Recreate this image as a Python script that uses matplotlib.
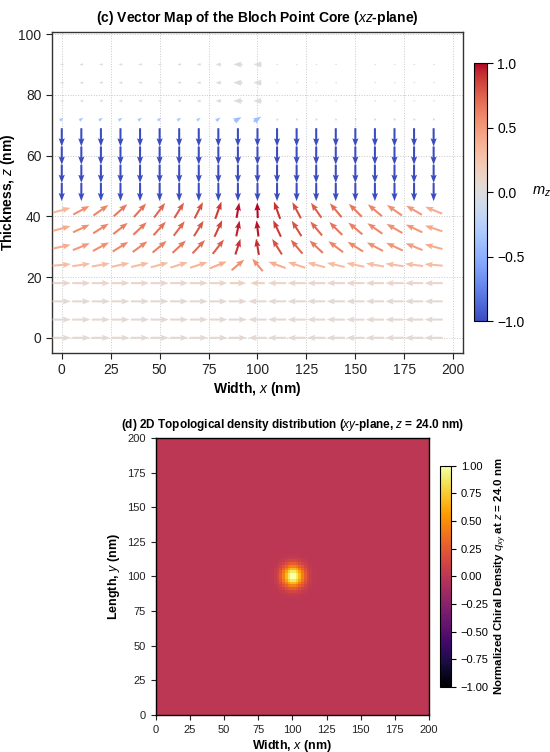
import numpy as np
import matplotlib
matplotlib.use("Agg")
import matplotlib.pyplot as plt

plt.rcParams['font.family'] = ['Liberation Sans', 'DejaVu Sans']
plt.rcParams['mathtext.fontset'] = 'custom'
plt.rcParams['mathtext.rm'] = 'Liberation Sans'
plt.rcParams['mathtext.it'] = 'Liberation Sans:italic'
plt.rcParams['mathtext.bf'] = 'Liberation Sans:bold'
plt.rcParams['axes.unicode_minus'] = True

# ---------------- data: panel (c) ----------------
x_nm = [0, 10, 20, 30, 40, 50, 60, 70, 80, 90, 100, 110, 120, 130, 140, 150, 160, 170, 180, 190]
z_nm = [0, 6, 12, 18, 24, 30, 36, 42, 48, 54, 60, 66, 72, 78, 84, 90]

# arrow direction (degrees from +x), one row per z
angle_deg = [
    [0]*10 + [180]*10,
    [0]*10 + [180]*10,
    [0]*10 + [180]*10,
    [0]*10 + [180]*10,
    [5, 8, 10, 12, 13, 15, 17, 18, 22, 40, 130, 160, 162, 165, 167, 168, 170, 172, 173, 175],
    [12, 22, 28, 32, 36, 40, 43, 47, 52, 72, 100, 122, 130, 137, 143, 148, 152, 155, 158, 165],
    [15, 25, 32, 38, 43, 48, 53, 58, 65, 78, 97, 115, 122, 130, 135, 140, 145, 150, 155, 162],
    [15, 28, 35, 42, 48, 53, 58, 63, 70, 80, 92, 110, 118, 125, 130, 135, 140, 145, 150, 158],
    [270]*20,
    [270]*20,
    [270]*20,
    [270]*20,
    [35]*9 + [30, 35] + [120]*9,
    [180]*20,
    [180]*20,
    [180]*20,
]
# in-plane arrow length (normalised)
magnitude = [
    [1.0]*20,
    [1.0]*20,
    [1.0]*20,
    [1.0]*9 + [0.9, 0.8] + [1.0]*9,
    [1.0]*9 + [0.9, 0.9] + [1.0]*9,
    [1.0]*9 + [0.9, 0.9] + [1.0]*9,
    [1.0]*9 + [0.88, 0.88] + [1.0]*9,
    [1.0]*9 + [0.85, 0.85] + [1.0]*9,
    [1.0]*20,
    [1.0]*20,
    [1.0]*20,
    [1.0]*20,
    [0.25]*8 + [0.3, 0.45, 0.5] + [0.15]*9,
    [0.2]*7 + [0.22, 0.3, 0.5, 0.45] + [0.12]*9,
    [0.2]*7 + [0.22, 0.3, 0.5, 0.45] + [0.12]*9,
    [0.2]*7 + [0.22, 0.3, 0.5, 0.45] + [0.12]*9,
]
# colour value m_z
mz = [
    [0.06]*20,
    [0.06]*20,
    [0.06]*20,
    [0.1]*9 + [0.15, 0.15] + [0.1]*9,
    [0.3, 0.3, 0.3, 0.3, 0.3, 0.3, 0.32, 0.35, 0.4, 0.55, 0.55, 0.4, 0.35, 0.32, 0.3, 0.3, 0.3, 0.3, 0.3, 0.3],
    [0.4, 0.5, 0.55, 0.58, 0.6, 0.62, 0.65, 0.7, 0.75, 0.9, 0.92, 0.8, 0.72, 0.65, 0.6, 0.58, 0.55, 0.52, 0.48, 0.4],
    [0.4, 0.55, 0.6, 0.62, 0.65, 0.68, 0.72, 0.78, 0.85, 0.95, 0.97, 0.88, 0.8, 0.72, 0.66, 0.62, 0.58, 0.55, 0.5, 0.42],
    [0.35, 0.55, 0.6, 0.65, 0.68, 0.72, 0.76, 0.8, 0.88, 0.97, 1.0, 0.9, 0.82, 0.75, 0.7, 0.65, 0.6, 0.55, 0.5, 0.4],
    [-1.0]*20,
    [-1.0]*20,
    [-1.0]*20,
    [-1.0]*20,
    [-0.35]*9 + [-0.4, -0.4] + [-0.2]*9,
    [-0.03]*20,
    [-0.03]*20,
    [-0.03]*20,
]

# ---------------- data: panel (d) ----------------
grid_cells = 100          # 2 nm cells over 0..200 nm
core_cell = 50            # cell index of the core (x = y = 100 nm boundary)
# one quadrant of the chiral-density spot, distances 1,3,...,15 nm from the core
spot_quadrant = [
    [1.000, 0.877, 0.673, 0.453, 0.267, 0.138, 0.062, 0.025],
    [0.877, 0.768, 0.589, 0.396, 0.234, 0.121, 0.055, 0.022],
    [0.673, 0.589, 0.453, 0.304, 0.179, 0.093, 0.042, 0.017],
    [0.453, 0.396, 0.304, 0.205, 0.121, 0.062, 0.028, 0.011],
    [0.267, 0.234, 0.179, 0.121, 0.071, 0.037, 0.017, 0.007],
    [0.138, 0.121, 0.093, 0.062, 0.037, 0.019, 0.009, 0.003],
    [0.062, 0.055, 0.042, 0.028, 0.017, 0.009, 0.004, 0.002],
    [0.025, 0.022, 0.017, 0.011, 0.007, 0.003, 0.002, 0.001],
]
ticks_d = [0, 25, 50, 75, 100, 125, 150, 175, 200]
cbar_ticks_d = [1.0, 0.75, 0.5, 0.25, 0.0, -0.25, -0.5, -0.75, -1.0]

# ---------------- figure ----------------
fig = plt.figure(figsize=(5.5, 7.52), dpi=100)

ax1 = fig.add_axes([0.0945, 0.5306, 0.7473, 0.4269])
cax1 = fig.add_axes([0.8618, 0.5731, 0.0231, 0.3431])

X, Z = np.meshgrid(np.array(x_nm, float), np.array(z_nm, float))
A = np.deg2rad(np.array(angle_deg, float))
M = np.array(magnitude, float)
U = M * np.cos(A)
V = M * np.sin(A)
C = np.array(mz, float)

ax1.grid(True, linestyle=':', color='#c8c8c8', linewidth=0.7, zorder=0)
ax1.set_axisbelow(True)
q = ax1.quiver(X, Z, U, V, C, cmap='coolwarm', clim=(-1, 1), pivot='mid',
               scale=22.5, width=0.005, headwidth=3, headlength=4, headaxislength=3.5,
               zorder=3)
ax1.set_xlim(-5, 205)
ax1.set_ylim(-5, 100.7)
ax1.set_xticks([0, 25, 50, 75, 100, 125, 150, 175, 200])
ax1.set_yticks([0, 20, 40, 60, 80, 100])
ax1.tick_params(direction='out', length=4, width=0.8, labelsize=10, colors='#222222')
for s in ax1.spines.values():
    s.set_color('#333333')
    s.set_linewidth(1.0)
ax1.set_title('(c) Vector Map of the Bloch Point Core ($xz$-plane)', fontsize=10,
              fontweight='bold', pad=7)
ax1.set_xlabel('Width, $x$ (nm)', fontsize=10, fontweight='bold', labelpad=2)
ax1.set_ylabel('Thickness, $z$ (nm)', fontsize=10, fontweight='bold')
ax1.yaxis.set_label_coords(-0.085, 0.5)

cb1 = fig.colorbar(q, cax=cax1)
cb1.set_ticks([1.0, 0.5, 0.0, -0.5, -1.0])
cb1.ax.tick_params(labelsize=10, length=4, width=0.8)
cb1.outline.set_linewidth(0.8)
cb1.set_label('$m_z$', rotation=0, fontsize=10.5, labelpad=12, va='center')

# panel (d)
ax2 = fig.add_axes([0.2831, 0.0492, 0.4969, 0.3684])
cax2 = fig.add_axes([0.8, 0.0864, 0.02, 0.2943])

density = np.zeros((grid_cells, grid_cells))
Q = np.array(spot_quadrant, float)
n = Q.shape[0]
patch = np.block([[Q[::-1, ::-1], Q[::-1, :]], [Q[:, ::-1], Q]])
density[core_cell - n:core_cell + n, core_cell - n:core_cell + n] = patch

im = ax2.imshow(density, origin='lower', extent=[0, 200, 0, 200], cmap='inferno',
                vmin=-1, vmax=1, aspect='auto', interpolation='nearest')
ax2.set_xticks(ticks_d)
ax2.set_yticks(ticks_d)
ax2.tick_params(direction='out', length=3.5, width=0.8, labelsize=8, colors='#222222')
for s in ax2.spines.values():
    s.set_linewidth(1.0)
ax2.set_title('(d) 2D Topological density distribution ($xy$-plane, $z$ = 24.0 nm)',
              fontsize=8.5, fontweight='bold', pad=7)
ax2.set_xlabel('Width, $x$ (nm)', fontsize=9, fontweight='bold', labelpad=2)
ax2.set_ylabel('Length, $y$ (nm)', fontsize=9, fontweight='bold', labelpad=4)

cb2 = fig.colorbar(im, cax=cax2)
cb2.set_ticks(cbar_ticks_d)
cb2.set_ticklabels(['1.00', '0.75', '0.50', '0.25', '0.00', '\u22120.25', '\u22120.50', '\u22120.75', '\u22121.00'])
cb2.ax.tick_params(labelsize=8, length=3.5, width=0.8)
cb2.outline.set_linewidth(0.8)
cb2.set_label('Normalized Chiral Density $q_{xy}$ at $z$ = 24.0 nm', fontsize=8.2,
              fontweight='bold', labelpad=3)

fig.savefig('out.png', dpi=100)
